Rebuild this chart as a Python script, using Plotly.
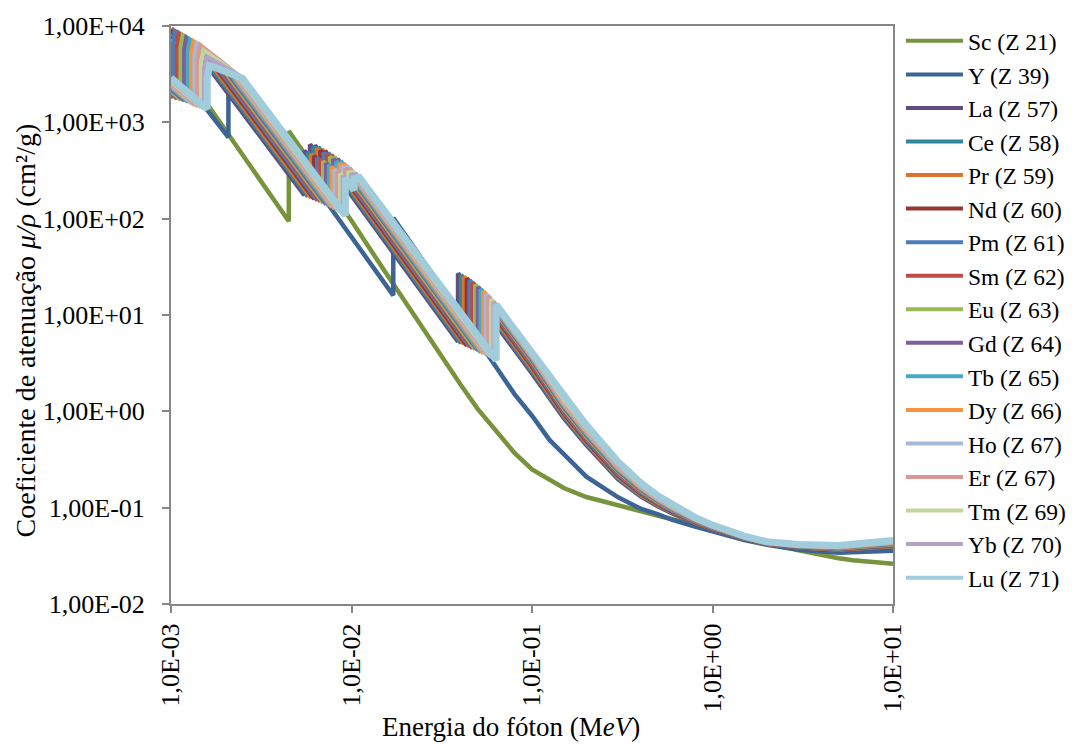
import plotly.graph_objects as go

# Coeficiente de atenuação mássico (cm²/g) em função da energia do fóton (MeV)

# Grade comum de energias altas (MeV) usada pelos lantanídeos
E_ALTA = [0.1, 0.15, 0.2, 0.3, 0.4, 0.5, 0.6, 0.8, 1.0, 1.5, 2.0, 3.0, 5.0, 10.0]

# Escândio
e_sc = [1.0e-3, 1.5e-3, 2.0e-3, 3.0e-3, 4.0e-3, 4.4928e-3, 4.4928e-3, 5.0e-3, 6.0e-3, 8.0e-3,
        1.0e-2, 1.5e-2, 2.0e-2, 3.0e-2, 4.0e-2, 5.0e-2, 6.0e-2, 8.0e-2, 0.1, 0.15, 0.2, 0.3,
        0.4, 0.5, 0.6, 0.8, 1.0, 1.5, 2.0, 3.0, 4.0, 5.0, 6.0, 8.0, 10.0]
mu_sc = [5400, 1810, 831, 278, 128, 94, 810, 607, 371, 171,
         95, 30.0, 13.2, 4.3, 1.92, 1.06, 0.70, 0.37, 0.25, 0.16, 0.129, 0.105,
         0.0905, 0.0825, 0.0759, 0.0652, 0.0596, 0.0485, 0.0428, 0.0361, 0.0322, 0.0299, 0.0285,
         0.0268, 0.0262]

# Ítrio
e_y = [1.0e-3, 1.5e-3, 2.080e-3, 2.080e-3, 2.156e-3, 2.156e-3, 2.373e-3, 2.373e-3, 3.0e-3, 5.0e-3,
       8.0e-3, 1.0e-2, 1.5e-2, 17.038e-3, 17.038e-3, 2.0e-2, 3.0e-2, 4.0e-2, 5.0e-2, 6.0e-2, 8.0e-2,
       0.1, 0.125, 0.15, 0.2, 0.3, 0.4, 0.5, 0.6, 0.8, 1.0, 1.5, 2.0, 3.0, 5.0, 10.0]
mu_y = [4100, 1540, 700, 2450, 2230, 3050, 2370, 2780, 1500, 394,
        115, 64.2, 22.2, 16.0, 102, 66.7, 22.5, 10.3, 5.5, 3.32, 1.51,
        0.90, 0.505, 0.36, 0.21, 0.128, 0.0975, 0.085, 0.0745, 0.0638, 0.0566, 0.0462, 0.0412,
        0.0366, 0.0341, 0.0358]

# Lantanídeos: bordas M, L3, L2, L1 e K (MeV) seguidas da grade comum
e_la = [1.0e-3, 1.362e-3, 5.483e-3, 5.483e-3, 5.891e-3, 5.891e-3, 6.266e-3, 6.266e-3, 38.925e-3, 38.925e-3] + E_ALTA
mu_la = [7800, 5690, 175, 508, 421, 590, 502, 578, 5.3, 27,
         2.47, 0.851, 0.447, 0.197, 0.131, 0.1028, 0.0871, 0.0686, 0.0594, 0.0473, 0.0419, 0.0384, 0.0364, 0.0392]

e_ce = [1.0e-3, 1.436e-3, 5.723e-3, 5.723e-3, 6.164e-3, 6.164e-3, 6.549e-3, 6.549e-3, 40.443e-3, 40.443e-3] + E_ALTA
mu_ce = [8500, 5390, 170, 488, 402, 563, 481, 553, 5.1, 26,
         2.62, 0.883, 0.462, 0.203, 0.1341, 0.1047, 0.0884, 0.0693, 0.0598, 0.0475, 0.0421, 0.0386, 0.0367, 0.0396]

e_pr = [1.0e-3, 1.511e-3, 5.964e-3, 5.964e-3, 6.440e-3, 6.440e-3, 6.835e-3, 6.835e-3, 41.991e-3, 41.991e-3] + E_ALTA
mu_pr = [9400, 5110, 165, 469, 384, 537, 460, 529, 5.0, 25,
         2.77, 0.917, 0.478, 0.209, 0.1373, 0.1066, 0.0896, 0.0700, 0.0603, 0.0478, 0.0422, 0.0388, 0.0369, 0.0401]

e_nd = [1.0e-3, 1.575e-3, 6.208e-3, 6.208e-3, 6.722e-3, 6.722e-3, 7.126e-3, 7.126e-3, 43.569e-3, 43.569e-3] + E_ALTA
mu_nd = [9000, 4940, 160, 450, 366, 512, 440, 506, 4.8, 24,
         2.92, 0.951, 0.495, 0.215, 0.1405, 0.1085, 0.0909, 0.0708, 0.0607, 0.0480, 0.0424, 0.0390, 0.0372, 0.0405]

e_pm = [1.0e-3, 1.027e-3, 1.027e-3, 1.052e-3, 1.650e-3, 6.459e-3, 6.459e-3, 7.013e-3, 7.013e-3,
        7.428e-3, 7.428e-3, 45.184e-3, 45.184e-3] + E_ALTA
mu_pm = [1900, 1820, 6600, 8800, 4700, 155, 429, 347, 485, 418, 481, 4.7, 23,
         3.06, 0.987, 0.512, 0.222, 0.1438, 0.1105, 0.0922, 0.0715, 0.0612, 0.0482, 0.0426, 0.0392, 0.0375, 0.0409]

e_sm = [1.0e-3, 1.080e-3, 1.080e-3, 1.106e-3, 1.723e-3, 6.716e-3, 6.716e-3, 7.312e-3, 7.312e-3,
        7.737e-3, 7.737e-3, 46.834e-3, 46.834e-3] + E_ALTA
mu_sm = [2000, 1770, 6300, 8400, 4530, 151, 414, 332, 464, 401, 461, 4.5, 21.8,
         3.18, 1.024, 0.530, 0.229, 0.1472, 0.1125, 0.0936, 0.0722, 0.0616, 0.0485, 0.0427, 0.0394, 0.0378, 0.0414]

e_eu = [1.0e-3, 1.131e-3, 1.131e-3, 1.161e-3, 1.800e-3, 6.977e-3, 6.977e-3, 7.617e-3, 7.617e-3,
        8.052e-3, 8.052e-3, 48.519e-3, 48.519e-3] + E_ALTA
mu_eu = [2100, 1720, 6000, 8000, 4320, 146, 396, 315, 441, 382, 439, 4.4, 20.7,
         3.31, 1.063, 0.548, 0.236, 0.1507, 0.1145, 0.0949, 0.0730, 0.0621, 0.0487, 0.0429, 0.0397, 0.0380, 0.0418]

e_gd = [1.0e-3, 1.185e-3, 1.185e-3, 1.217e-3, 1.881e-3, 7.243e-3, 7.243e-3, 7.930e-3, 7.930e-3,
        8.376e-3, 8.376e-3, 50.239e-3, 50.239e-3] + E_ALTA
mu_gd = [2200, 1680, 5700, 7600, 4100, 141, 378, 299, 418, 363, 417, 4.3, 19.6,
         3.42, 1.103, 0.567, 0.243, 0.1543, 0.1166, 0.0963, 0.0738, 0.0625, 0.0489, 0.0431, 0.0399, 0.0383, 0.0423]

e_tb = [1.0e-3, 1.242e-3, 1.242e-3, 1.275e-3, 1.968e-3, 7.514e-3, 7.514e-3, 8.252e-3, 8.252e-3,
        8.708e-3, 8.708e-3, 51.996e-3, 51.996e-3] + E_ALTA
mu_tb = [2300, 1630, 5400, 7200, 3880, 136, 360, 282, 395, 344, 395, 4.1, 18.6,
         3.55, 1.145, 0.587, 0.250, 0.1579, 0.1187, 0.0976, 0.0745, 0.0630, 0.0492, 0.0432, 0.0401, 0.0386, 0.0427]

e_dy = [1.0e-3, 1.295e-3, 1.295e-3, 1.333e-3, 2.047e-3, 7.790e-3, 7.790e-3, 8.581e-3, 8.581e-3,
        9.046e-3, 9.046e-3, 53.789e-3, 53.789e-3] + E_ALTA
mu_dy = [2400, 1590, 5200, 6900, 3730, 132, 345, 268, 375, 327, 376, 4.0, 17.6,
         3.66, 1.188, 0.607, 0.258, 0.1616, 0.1208, 0.0991, 0.0753, 0.0635, 0.0494, 0.0434, 0.0403, 0.0389, 0.0432]

e_ho = [1.0e-3, 1.351e-3, 1.351e-3, 1.392e-3, 2.128e-3, 8.071e-3, 8.071e-3, 8.918e-3, 8.918e-3,
        9.394e-3, 9.394e-3, 55.618e-3, 55.618e-3] + E_ALTA
mu_ho = [2450, 1510, 4950, 6600, 3560, 127, 328, 253, 354, 309, 356, 3.9, 16.6,
         3.76, 1.233, 0.628, 0.265, 0.1655, 0.1230, 0.1005, 0.0761, 0.0640, 0.0496, 0.0436, 0.0405, 0.0392, 0.0437]

e_er = [1.0e-3, 1.409e-3, 1.409e-3, 1.453e-3, 2.207e-3, 8.358e-3, 8.358e-3, 9.264e-3, 9.264e-3,
        9.751e-3, 9.751e-3, 57.486e-3, 57.486e-3] + E_ALTA
mu_er = [2550, 1470, 4700, 6300, 3410, 122, 311, 238, 333, 292, 336, 3.8, 15.6,
         3.85, 1.279, 0.650, 0.273, 0.1694, 0.1252, 0.1019, 0.0769, 0.0644, 0.0499, 0.0438, 0.0407, 0.0395, 0.0441]

e_tm = [1.0e-3, 1.468e-3, 1.468e-3, 1.515e-3, 2.307e-3, 8.648e-3, 8.648e-3, 9.617e-3, 9.617e-3,
        10.116e-3, 10.116e-3, 59.390e-3, 59.390e-3] + E_ALTA
mu_tm = [2650, 1430, 4200, 5600, 3180, 117, 295, 224, 313, 274, 316, 3.65, 14.6,
         3.92, 1.328, 0.672, 0.282, 0.1734, 0.1275, 0.1034, 0.0777, 0.0649, 0.0501, 0.0439, 0.0410, 0.0398, 0.0446]

e_yb = [1.0e-3, 1.528e-3, 1.528e-3, 1.576e-3, 2.398e-3, 8.944e-3, 8.944e-3, 9.978e-3, 9.978e-3,
        10.486e-3, 10.486e-3, 61.332e-3, 61.332e-3] + E_ALTA
mu_yb = [2750, 1390, 3600, 4800, 3040, 113, 280, 211, 295, 259, 298, 3.55, 13.7,
         3.99, 1.378, 0.695, 0.290, 0.1775, 0.1298, 0.1049, 0.0785, 0.0654, 0.0504, 0.0441, 0.0412, 0.0401, 0.0451]

e_lu = [1.0e-3, 1.588e-3, 1.588e-3, 1.639e-3, 2.491e-3, 9.244e-3, 9.244e-3, 10.349e-3, 10.349e-3,
        10.870e-3, 10.870e-3, 63.314e-3, 63.314e-3] + E_ALTA
mu_lu = [2900, 1380, 2900, 3900, 2860, 108, 265, 198, 277, 244, 280, 3.4, 12.8,
         4.05, 1.43, 0.719, 0.299, 0.1816, 0.1322, 0.1064, 0.0793, 0.0659, 0.0506, 0.0443, 0.0414, 0.0404, 0.0456]

rotulos = ["Sc (Z 21)", "Y (Z 39)", "La (Z 57)", "Ce (Z 58)", "Pr (Z 59)", "Nd (Z 60)",
           "Pm (Z 61)", "Sm (Z 62)", "Eu (Z 63)", "Gd (Z 64)", "Tb (Z 65)", "Dy (Z 66)",
           "Ho (Z 67)", "Er (Z 67)", "Tm (Z 69)", "Yb (Z 70)", "Lu (Z 71)"]
cores = ["#77933C", "#3C6494", "#634B80", "#31869B", "#D8762C", "#963634",
         "#4A7EBB", "#BE4B48", "#98B954", "#7D5FA0", "#46AAC5", "#F69240",
         "#A7B9D8", "#D99795", "#C3D59C", "#B3A3C9", "#A0CCDB"]
energias = [e_sc, e_y, e_la, e_ce, e_pr, e_nd, e_pm, e_sm, e_eu, e_gd, e_tb, e_dy,
            e_ho, e_er, e_tm, e_yb, e_lu]
coeficientes = [mu_sc, mu_y, mu_la, mu_ce, mu_pr, mu_nd, mu_pm, mu_sm, mu_eu, mu_gd,
                mu_tb, mu_dy, mu_ho, mu_er, mu_tm, mu_yb, mu_lu]

x_ticks = [1e-3, 1e-2, 1e-1, 1e0, 1e1]
x_ticktext = ["1,0E-03", "1,0E-02", "1,0E-01", "1,0E+00", "1,0E+01"]
y_ticks = [1e-2, 1e-1, 1e0, 1e1, 1e2, 1e3, 1e4]
y_ticktext = ["1,00E-02", "1,00E-01", "1,00E+00", "1,00E+01", "1,00E+02", "1,00E+03", "1,00E+04"]

FONTE = "Liberation Serif"

fig = go.Figure()
for nome, cor, ex, mu in zip(rotulos, cores, energias, coeficientes):
    largura = 7 if nome.startswith("Lu") else 4.5
    fig.add_trace(go.Scatter(x=ex, y=mu, mode="lines", name=nome, legendgroup=nome,
                             showlegend=False, line=dict(color=cor, width=largura)))
# Entradas da legenda com traço de espessura uniforme
for nome, cor in zip(rotulos, cores):
    fig.add_trace(go.Scatter(x=[None], y=[None], mode="lines", name=nome, legendgroup=nome,
                             showlegend=True, line=dict(color=cor, width=4)))

fig.update_xaxes(type="log", range=[-3, 1], tickvals=x_ticks, ticktext=x_ticktext,
                 tickangle=-90, showgrid=False, zeroline=False, showline=True,
                 linecolor="#868686", linewidth=2, mirror=True, ticks="outside", ticklen=7,
                 tickcolor="#868686", tickwidth=1.5,
                 tickfont=dict(family=FONTE, size=26, color="#000000"))
fig.update_yaxes(type="log", range=[-2, 4], tickvals=y_ticks, ticktext=y_ticktext,
                 ticklabelstandoff=12, showgrid=False, zeroline=False, showline=True,
                 linecolor="#868686", linewidth=2, mirror=True, ticks="outside", ticklen=7,
                 tickcolor="#868686", tickwidth=1.5,
                 tickfont=dict(family=FONTE, size=26, color="#000000"))

fig.update_layout(
    width=1083, height=744,
    margin=dict(l=171, r=188, t=18, b=140),
    paper_bgcolor="white", plot_bgcolor="white",
    showlegend=True,
    legend=dict(x=1.011, y=1.012, xanchor="left", yanchor="top",
                font=dict(family=FONTE, size=23.5, color="#000000"),
                bgcolor="rgba(0,0,0,0)", tracegroupgap=0, itemwidth=57,
                maxheight=720),
    annotations=[
        dict(text="Coeficiente de atenuação <i>μ/ρ</i> (cm²/g)", xref="paper", yref="paper",
             x=-0.2017, y=0.474, xanchor="center", yanchor="middle", textangle=-90,
             showarrow=False, font=dict(family=FONTE, size=28, color="#000000")),
        dict(text="Energia do fóton (M<i>eV</i>)", xref="paper", yref="paper",
             x=0.471, y=-0.2133, xanchor="center", yanchor="middle",
             showarrow=False, font=dict(family=FONTE, size=27, color="#000000")),
    ],
)

fig.write_html("out.html")
